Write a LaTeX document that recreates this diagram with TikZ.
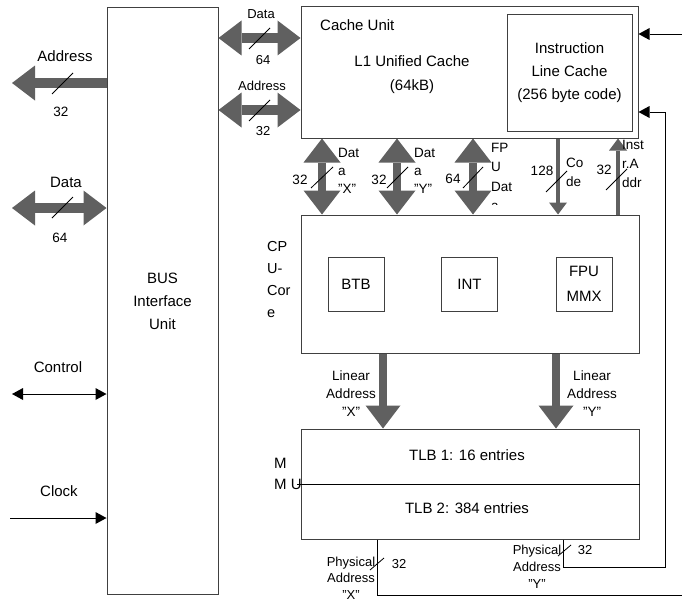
\documentclass[tikz,border=0pt]{standalone}
\usepackage{fontspec}
\setmainfont{Liberation Sans}
\usetikzlibrary{arrows.meta}
\definecolor{boxc}{RGB}{64,64,64}
\definecolor{arrc}{RGB}{96,96,96}
\newcommand\ffMain{\fontsize{15}{23}\selectfont}
\newcommand\ffCore{\fontsize{14.5}{22}\selectfont}
\newcommand\ffSmall{\fontsize{13.5}{18}\selectfont}
\newcommand\ffTiny{\fontsize{13}{17}\selectfont}
\newcommand\sq{\symbol{34}}
\begin{document}
\begin{tikzpicture}[x=1pt,y=-1pt,
  box/.style={draw=boxc, line width=1pt, inner sep=0pt, align=center, font=\ffMain},
  lbl/.style={inner sep=0pt, font=\ffMain, align=center},
  slbl/.style={inner sep=0pt, font=\ffSmall, align=center},
  tlbl/.style={inner sep=0pt, font=\ffTiny, align=center},
  bigtip/.tip={Triangle[width=35pt,length=23pt,line width=0pt]},
  vtip/.tip={Triangle[width=37pt,length=24pt,line width=0pt]},
  midtip/.tip={Triangle[width=18pt,length=12pt,line width=0pt]},
  thintip/.tip={Triangle[width=12pt,length=11pt,line width=0pt]},
  fatbus/.style={draw=arrc, line width=9.5pt},
  vbus/.style={draw=arrc, line width=8pt},
  narrowbus/.style={draw=arrc, line width=3.5pt},
  wire/.style={draw=black, line width=0.9pt},
  slash/.style={draw=black, line width=0.8pt}]
\useasboundingbox (0,0) rectangle (682,602);

% ---------- boxes ----------
\node[box, minimum width=111pt, minimum height=586pt] (biu) at (162.5,301) {BUS\\Interface\\Unit};
\node[box, minimum width=337pt, minimum height=131pt] (cache) at (469.5,72.5) {};
\node[box, minimum width=125pt, minimum height=116pt] (ilc) at (569.5,73) {Instruction\\Line Cache\\(256 byte code)};
\node[lbl, anchor=west] (cu) at (320,25) {Cache Unit};
\node[lbl, font=\fontsize{15}{24}\selectfont] (l1) at (412,75) {L1 Unified Cache\\(64kB)};

\node[box, minimum width=338pt, minimum height=138pt] (cpu) at (470,284) {};
\node[box, minimum width=56pt, minimum height=54pt] (btb) at (356,284) {BTB};
\node[box, minimum width=56pt, minimum height=54pt] (int) at (469.5,284) {INT};
\node[box, minimum width=56pt, minimum height=54pt, font=\fontsize{15}{25}\selectfont] (fpu) at (584,284) {FPU\\MMX};
\node[inner sep=0pt, font=\ffCore, align=left, anchor=west] (corelbl) at (267,280) {CP\\U-\\Cor\\e};

\node[box, minimum width=338pt, minimum height=110pt] (mmu) at (470,484) {};
\node[lbl] (tlb1) at (467,455) {TLB 1: 16 entries};
\node[lbl] (tlb2) at (467,508) {TLB 2: 384 entries};
\coordinate (divw) at (297,484);
\draw[black, line width=0.9pt] (divw) -- (mmu.east);
\node[lbl, anchor=west] (mm1) at (274,463) {M};
\node[lbl, anchor=west] (mm2) at (274,484) {M U};

% ---------- left side buses ----------
\coordinate (addrL) at (12,83);
\draw[fatbus, -bigtip] (biu.west |- 0,83) -- (addrL);
\node[lbl] (addrLt) at (65,56) {Address};
\node[slbl] (addrLn) at (61,112) {32};
\draw[slash] (52,94) -- (73,73);

\coordinate (dataL) at (12,208);
\draw[fatbus, bigtip-bigtip] (dataL) -- (biu.west |- 0,208);
\node[lbl] (dataLt) at (66,182) {Data};
\node[slbl] (dataLn) at (60,238) {64};
\draw[slash] (52,218) -- (73,197);

\coordinate (ctl) at (12,394);
\draw[wire, thintip-thintip] (ctl) -- (biu.west |- 0,394);
\node[lbl] (ctlt) at (58,367) {Control};

\coordinate (clk) at (10,518);
\draw[wire, -thintip] (clk) -- (biu.west |- 0,518);
\node[lbl] (clkt) at (59,491) {Clock};

% ---------- BIU <-> cache ----------
\draw[fatbus, bigtip-bigtip] (biu.east |- 0,38) -- (cache.west |- 0,38);
\node[tlbl] (d64t) at (261,14) {Data};
\node[tlbl] (d64n) at (263,60) {64};
\draw[slash] (249,49) -- (270,28);

\draw[fatbus, bigtip-bigtip] (biu.east |- 0,110) -- (cache.west |- 0,110);
\node[tlbl] (a32t) at (262,86) {Address};
\node[tlbl] (a32n) at (263,131) {32};
\draw[slash] (249,121) -- (270,100);

% ---------- cache <-> cpu ----------
\draw[vbus, vtip-vtip] (cache.south -| 322,0) -- (cpu.north -| 322,0);
\node[slbl] (dxn) at (300,180) {32};
\node[slbl, align=left, anchor=west] (dxt) at (338,171) {Dat\\a\\\sq X\sq};
\draw[slash] (311,188) -- (333,167);

\draw[vbus, vtip-vtip] (cache.south -| 397,0) -- (cpu.north -| 397,0);
\node[slbl] (dyn) at (379,180) {32};
\node[slbl, align=left, anchor=west] (dyt) at (414,171) {Dat\\a\\\sq Y\sq};
\draw[slash] (387,188) -- (408,167);

\draw[vbus, vtip-vtip] (cache.south -| 473,0) -- (cpu.north -| 473,0);
\node[slbl] (fpn) at (453,179) {64};
\begin{scope}
\clip (485,135) rectangle (530,204);
\node[slbl, align=left, anchor=north west, font=\fontsize{13.5}{19.3}\selectfont] (fpt) at (491,143) {FP\\U\\Dat\\a};
\end{scope}
\draw[slash] (463,188) -- (483,167);

\draw[narrowbus, -midtip] (cache.south -| 558,0) -- (cpu.north -| 558,0);
\node[slbl] (cdn) at (542,171) {128};
\node[slbl, align=left, anchor=west, font=\fontsize{13.5}{19}\selectfont] (cdt) at (566,172) {Co\\de};
\draw[slash] (546,192) -- (567,171);

\draw[narrowbus, -midtip] (cpu.north -| 618,0) -- (cache.south -| 618,0);
\node[slbl] (ian) at (604,170) {32};
\node[slbl, align=left, anchor=west, font=\fontsize{13.5}{19}\selectfont] (iat) at (622,164) {Inst\\r.A\\ddr};
\draw[slash] (606,190) -- (627,169);

% ---------- cpu -> mmu ----------
\draw[vbus, -bigtip] (cpu.south -| 383,0) -- (mmu.north -| 383,0);
\node[slbl] (lax) at (351,394) {Linear\\Address\\\sq X\sq};
\draw[vbus, -bigtip] (cpu.south -| 556,0) -- (mmu.north -| 556,0);
\node[slbl] (lay) at (592,394) {Linear\\Address\\\sq Y\sq};

% ---------- right side wires ----------
\coordinate (ext1) at (682,34);
\draw[wire, -thintip] (ext1) -- (cache.east |- 0,34);

\coordinate (loopc) at (665,567);
\draw[wire, -thintip] (mmu.south -| 563,0) |- (loopc) |- (cache.east |- 0,112);
\node[tlbl] (pyt) at (537,567) {Physical\\Address\\\sq Y\sq};
\node[tlbl] (pyn) at (585,550) {32};
\draw[slash] (558,556) -- (571,545);

\coordinate (ext2) at (682,595);
\draw[wire] (mmu.south -| 377,0) |- (ext2);
\node[tlbl, font=\fontsize{13}{16.5}\selectfont] (pxt) at (351,578) {Physical\\Address\\\sq X\sq};
\node[tlbl] (pxn) at (399,564) {32};
\draw[slash] (370,570) -- (384,558);
\end{tikzpicture}
\end{document}
